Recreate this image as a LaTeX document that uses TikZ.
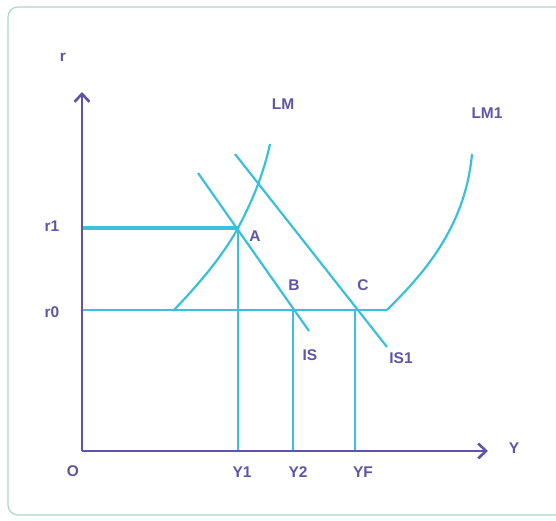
\documentclass[tikz,border=0pt]{standalone}
\usepackage{fontspec}
\setmainfont{Liberation Sans}
\usetikzlibrary{arrows.meta}
\definecolor{axispurple}{RGB}{98,84,164}
\definecolor{curvecyan}{RGB}{58,192,218}
\definecolor{framegreen}{RGB}{172,214,198}

\begin{document}
\begin{tikzpicture}[x=1pt,y=-1pt,font=\fontsize{15.5}{18}\selectfont\bfseries,
    axis/.style={draw=axispurple,line width=2.6pt},
    curve/.style={draw=curvecyan,line width=2.2pt},
    lbl/.style={text=axispurple,inner sep=0pt}]
    \useasboundingbox (0,0) rectangle (556,521);
    \draw[framegreen,line width=1.2pt,rounded corners=10pt] (8,7) rectangle (590,515);
    % points of the diagram
    \coordinate (O) at (82,451);
    \coordinate (A) at (238,228);
    \coordinate (B) at (293,310);
    \coordinate (C) at (355,310);
    \coordinate (K) at (387,310);
    % level lines r1 and r0
    \draw[curve,line width=3.2pt] (82,228) -- (A);
    \draw[curve] (82,310) -- (K);
    % drops to the Y axis
    \foreach \p/\x in {A/238,B/293,C/355} {
        \draw[curve] (\p) -- (\x,451);
    }
    % LM and LM1
    \draw[curve] (173,311) .. controls (205,278) and (226,250) .. (A)
        .. controls (250,205) and (262,180) .. (270,144);
    \draw[curve] (K) .. controls (420,277) and (465,230) .. (472,154);
    % IS and IS1
    \draw[curve] (198,173) -- (309,331);
    \draw[curve] (235,154) -- (387,347);
    % axes
    \draw[axis,-{Straight Barb[length=8pt,width=15pt]}] (O) -- (82,92);
    \draw[axis,-{Straight Barb[length=8pt,width=15pt]}] (O) -- (488,451);
    % labels
    \node[lbl] (rlab) at (63,57) {r};
    \node[lbl] (ylab) at (514,448) {Y};
    \node[lbl] (olab) at (73,471) {O};
    \node[lbl] (r1lab) at (52,226) {r1};
    \node[lbl] (r0lab) at (52,312) {r0};
    \node[lbl] (lmlab) at (283,104) {LM};
    \node[lbl] (lm1lab) at (487,113) {LM1};
    \node[lbl] (alab) at (255,236) {A};
    \node[lbl] (blab) at (294,285) {B};
    \node[lbl] (clab) at (363,285) {C};
    \node[lbl] (islab) at (310,355) {IS};
    \node[lbl] (is1lab) at (401,358) {IS1};
    \foreach \x/\t in {242/Y1,298/Y2,363/YF} {
        \node[lbl] (lab\t) at (\x,472) {\t};
    }
\end{tikzpicture}
\end{document}
